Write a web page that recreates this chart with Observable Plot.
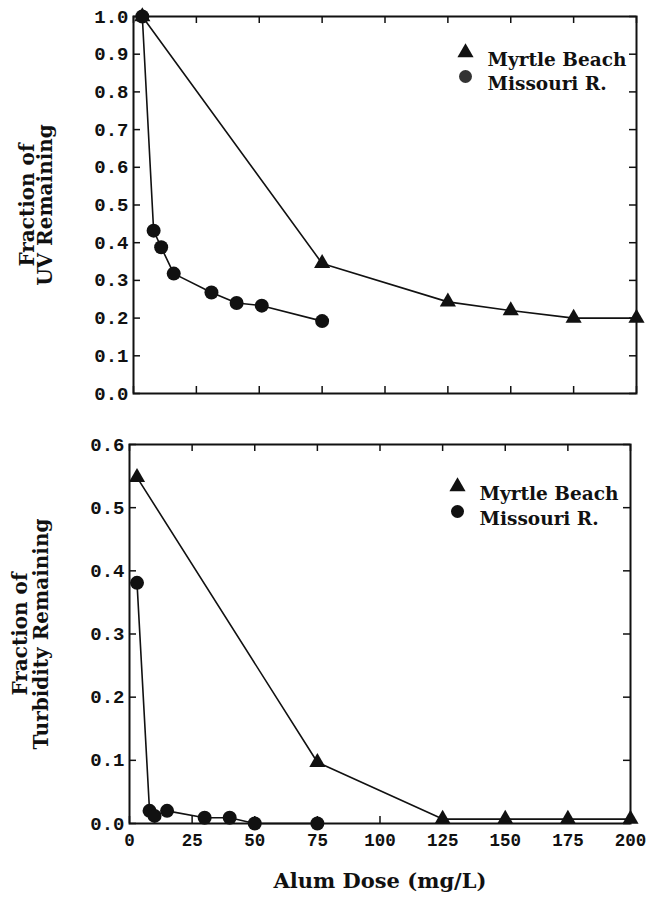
<!DOCTYPE html>
<html><head><meta charset="utf-8">
<script src="https://cdn.jsdelivr.net/npm/d3@7"></script>
<script src="https://cdn.jsdelivr.net/npm/@observablehq/plot@0.6"></script>
<style>
body{margin:0;background:#fff;}
#chart svg{display:block;}
</style></head>
<body><div id="chart"></div>
<script>
// ---- data ----
const seriesNames = ["Myrtle Beach", "Missouri R."];
const xLabel = "Alum Dose (mg/L)";
const uvLabel = "Fraction of\nUV Remaining";
const turbLabel = "Fraction of\nTurbidity Remaining";

const uvMyrtleDose = [3.5, 75, 125, 150, 175, 200];
const uvMyrtleValue = [1.0, 0.345, 0.243, 0.22, 0.2, 0.2];
const uvMissouriDose = [3.5, 8, 11, 16, 31, 41, 51, 75];
const uvMissouriValue = [1.0, 0.432, 0.388, 0.318, 0.268, 0.24, 0.233, 0.192];

const turbMyrtleDose = [3, 75, 125, 150, 175, 200];
const turbMyrtleValue = [0.548, 0.097, 0.007, 0.007, 0.007, 0.007];
const turbMissouriDose = [3, 8, 10, 15, 30, 40, 50, 75];
const turbMissouriValue = [0.381, 0.02, 0.012, 0.02, 0.009, 0.009, 0.0, 0.0];

const xTicks = [0, 25, 50, 75, 100, 125, 150, 175, 200];
const uvTicks = [0, 0.1, 0.2, 0.3, 0.4, 0.5, 0.6, 0.7, 0.8, 0.9, 1.0];
const turbTicks = [0, 0.1, 0.2, 0.3, 0.4, 0.5, 0.6];

const rows = (xs, ys) => xs.map((x, i) => ({x, y: ys[i]}));
const serif = "'DejaVu Serif', serif";

function panel(o) {
  const W = 646;
  const plotW = W - o.marginLeft - o.marginRight;
  const plotH = o.height - o.marginTop - o.marginBottom;
  const tick = 7;
  const myrtle = rows(o.myrtleX, o.myrtleY);
  const missouri = rows(o.missouriX, o.missouriY);
  const marks = [
    Plot.frame({stroke: "#111", strokeWidth: 2}),
    Plot.tickX(xTicks, {x: d => d, insetTop: plotH - tick, stroke: "#111", strokeWidth: 1.5}),
    Plot.tickX(xTicks, {x: d => d, insetBottom: plotH - tick, stroke: "#111", strokeWidth: 1.5}),
    Plot.tickY(o.yTicks, {y: d => d, insetRight: plotW - tick, stroke: "#111", strokeWidth: 1.5}),
    Plot.tickY(o.yTicks, {y: d => d, insetLeft: plotW - tick, stroke: "#111", strokeWidth: 1.5}),
    Plot.axisY(o.yTicks, {tickSize: 0, tickPadding: 5, tickFormat: d3.format(".1f"), label: null, fontSize: 19, fontWeight: "bold", fill: "#111"}),
    Plot.line(myrtle, {x: "x", y: "y", stroke: "#111", strokeWidth: 1.6}),
    Plot.line(missouri, {x: "x", y: "y", stroke: "#111", strokeWidth: 1.6}),
    Plot.dot(myrtle, {x: "x", y: "y", symbol: "triangle", r: 6, fill: "#111", stroke: null}),
    Plot.dot(missouri, {x: "x", y: "y", symbol: "circle", r: 7, fill: "#111", stroke: null}),
    Plot.text([o.yLabel], {text: d => d, frameAnchor: "left", textAnchor: "middle", rotate: -90, dx: o.yTitleDx, fontSize: 20, fontWeight: "bold", fontFamily: serif, lineHeight: o.yTitleLH, fill: "#111"}),
    Plot.dot([seriesNames[0]], {frameAnchor: "top-right", dx: o.legDx, dy: o.legDy, symbol: "triangle", r: 6, fill: "#111", stroke: null}),
    Plot.dot([seriesNames[1]], {frameAnchor: "top-right", dx: o.legDx, dy: o.legDy + o.legGap, symbol: "circle", r: 6.5, fill: o.legCircleFill, stroke: null}),
    Plot.text([seriesNames[0]], {text: d => d, frameAnchor: "top-right", dx: o.legDx + 22, dy: o.legDy, textAnchor: "start", fontSize: 18.5, fontWeight: "bold", fontFamily: serif, fill: "#111"}),
    Plot.text([seriesNames[1]], {text: d => d, frameAnchor: "top-right", dx: o.legDx + 22, dy: o.legDy + o.legGap, textAnchor: "start", fontSize: 18.5, fontWeight: "bold", fontFamily: serif, fill: "#111"})
  ];
  if (o.showX) {
    marks.push(Plot.axisX(xTicks, {tickSize: 0, tickPadding: 10, label: null, fontSize: 17.5, fontWeight: "bold", fill: "#111"}));
    marks.push(Plot.text([xLabel], {text: d => d, frameAnchor: "bottom", dy: 64, fontSize: 21, fontWeight: "bold", fontFamily: serif, fill: "#111"}));
  }
  return Plot.plot({
    width: W,
    height: o.height,
    marginTop: o.marginTop,
    marginBottom: o.marginBottom,
    marginLeft: o.marginLeft,
    marginRight: o.marginRight,
    x: {domain: [0, 200], axis: o.showX ? undefined : null},
    y: {domain: o.yDomain},
    style: {fontFamily: "'Liberation Mono', 'DejaVu Sans Mono', monospace", background: "#fff", color: "#111", overflow: "visible"},
    marks
  });
}

const topPanel = panel({
  height: 420, marginTop: 16, marginBottom: 27, marginLeft: 133, marginRight: 10,
  yDomain: [0, 1], yTicks: uvTicks,
  myrtleX: uvMyrtleDose, myrtleY: uvMyrtleValue,
  missouriX: uvMissouriDose, missouriY: uvMissouriValue,
  yLabel: uvLabel, yTitleDx: -96, yTitleLH: 0.9,
  legDx: -171, legDy: 36, legGap: 24, legCircleFill: "#333",
  showX: false
});
const bottomPanel = panel({
  height: 483, marginTop: 24, marginBottom: 80, marginLeft: 129, marginRight: 16,
  yDomain: [0, 0.6], yTicks: turbTicks,
  myrtleX: turbMyrtleDose, myrtleY: turbMyrtleValue,
  missouriX: turbMissouriDose, missouriY: turbMissouriValue,
  yLabel: turbLabel, yTitleDx: -99, yTitleLH: 1.05,
  legDx: -173, legDy: 42, legGap: 25, legCircleFill: "#111",
  showX: true
});
document.getElementById("chart").append(topPanel, bottomPanel);
</script>
</body></html>
